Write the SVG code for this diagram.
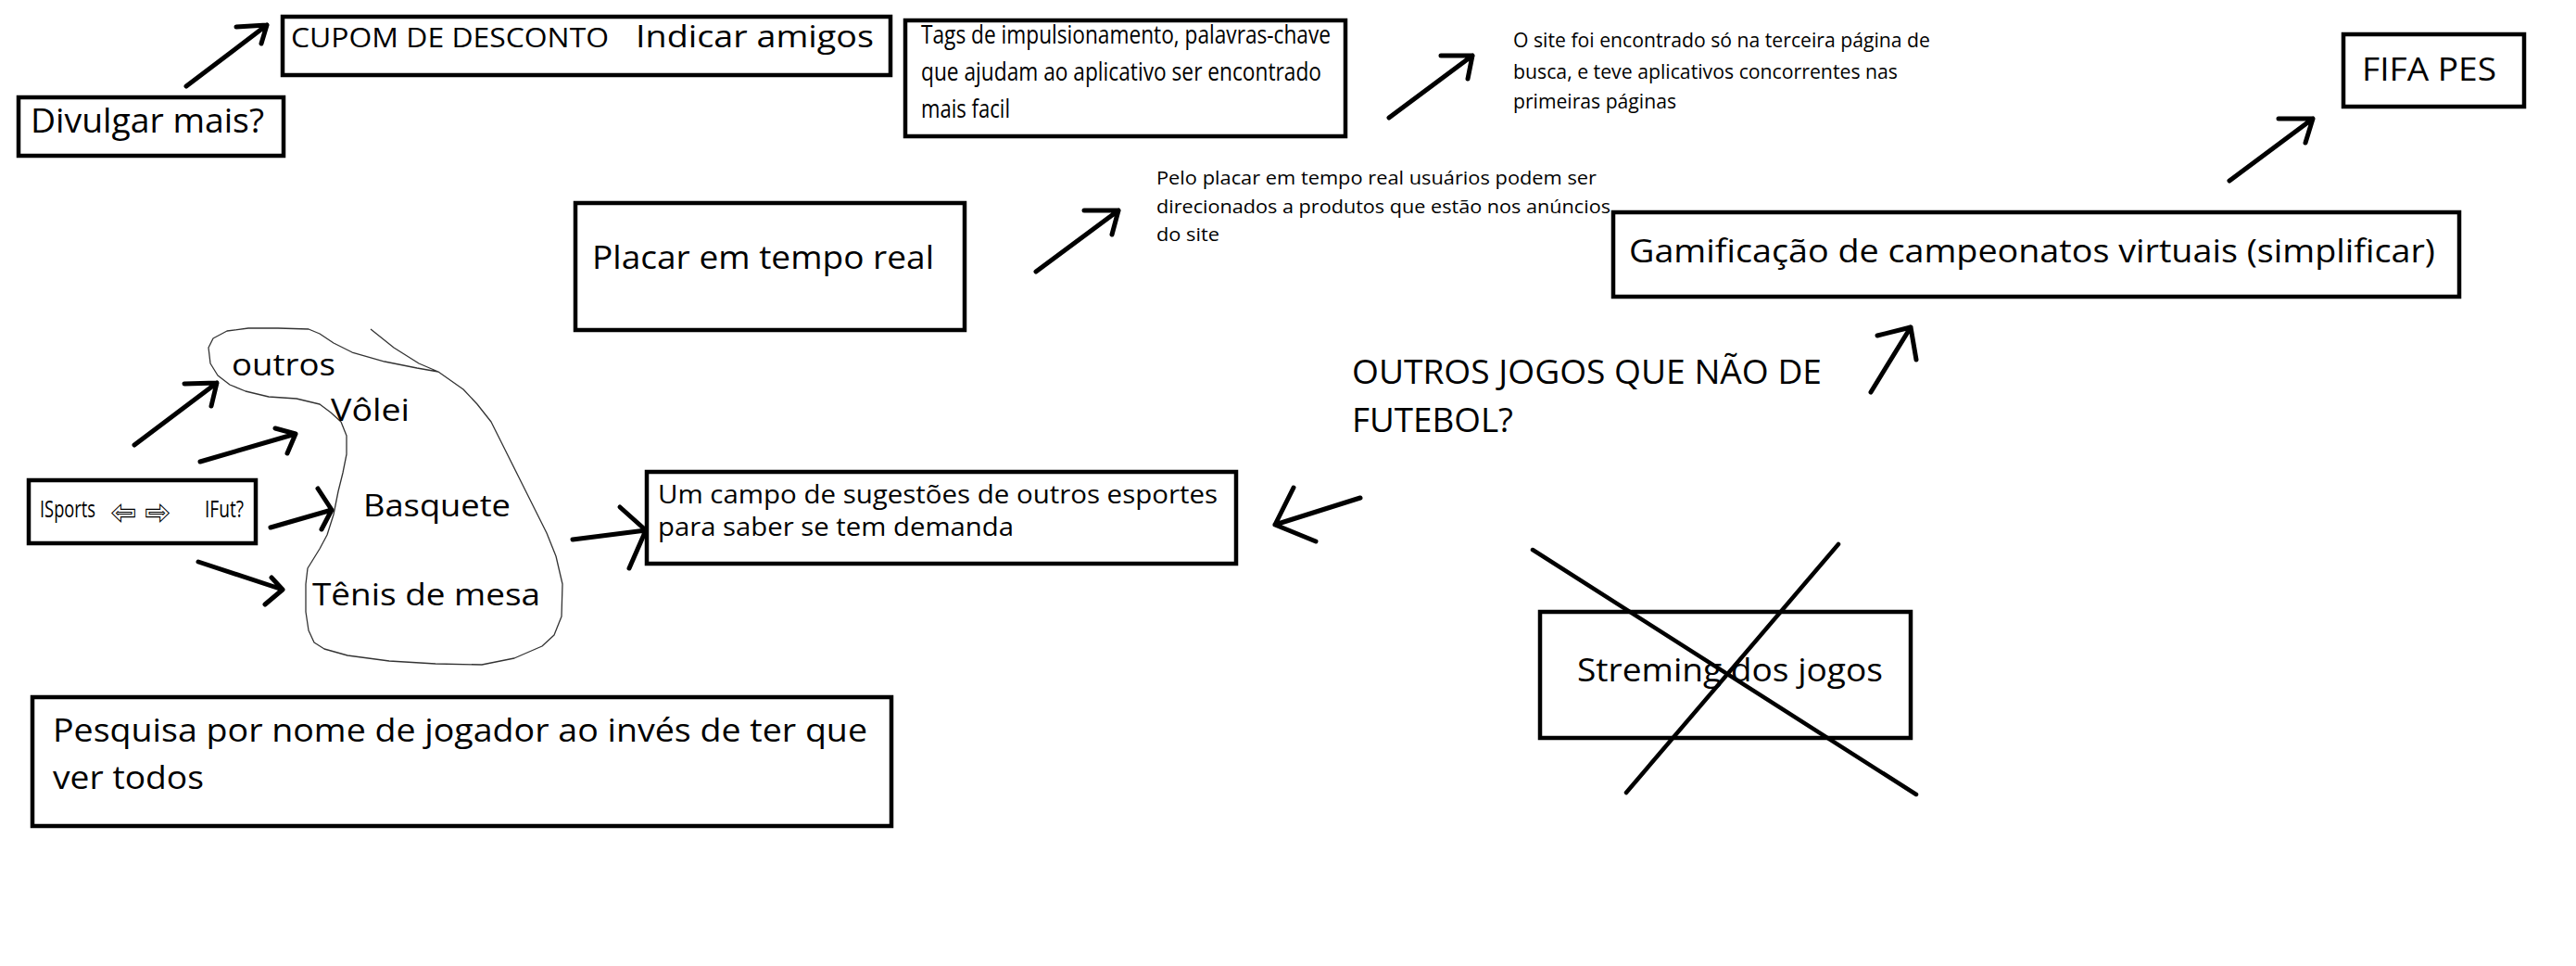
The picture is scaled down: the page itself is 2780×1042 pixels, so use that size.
<svg xmlns="http://www.w3.org/2000/svg" width="2780" height="1042" viewBox="0 0 2780 1042">
<style>
.bg{fill:#fff}
.box{fill:none;stroke:#000;stroke-width:4.5}
.t{font-family:'Open Sans','Liberation Sans',sans-serif;fill:#000}
.sym{font-family:'DejaVu Sans',sans-serif;font-weight:bold;fill:#fff;stroke:#000;stroke-width:2.2;paint-order:stroke}
.ar{fill:none;stroke:#000;stroke-width:5;stroke-linecap:round;stroke-linejoin:round}
.x{fill:none;stroke:#000;stroke-width:4.5;stroke-linecap:round}
.blob{fill:none;stroke:#333;stroke-width:1.3;stroke-linejoin:round}
</style>
<rect class="bg" x="0" y="0" width="2780" height="1042"/>

<g id="divulgar">
<rect class="box" x="20" y="105" width="286" height="63"/>
<text class="t" x="33" y="143" font-size="37" textLength="252" lengthAdjust="spacingAndGlyphs">Divulgar mais?</text>
</g>

<g id="cupom">
<rect class="box" x="305" y="18" width="656" height="63"/>
<text class="t" x="314" y="51" font-size="29" textLength="343" lengthAdjust="spacingAndGlyphs">CUPOM DE DESCONTO</text>
<text class="t" x="686" y="51" font-size="33" textLength="257" lengthAdjust="spacingAndGlyphs">Indicar amigos</text>
</g>

<g id="tags">
<rect class="box" x="977" y="22" width="475" height="125"/>
<text class="t" x="994" y="47" font-size="27" textLength="442" lengthAdjust="spacingAndGlyphs">Tags de impulsionamento, palavras-chave</text>
<text class="t" x="994" y="87" font-size="27" textLength="432" lengthAdjust="spacingAndGlyphs">que ajudam ao aplicativo ser encontrado</text>
<text class="t" x="994" y="127" font-size="27" textLength="96" lengthAdjust="spacingAndGlyphs">mais facil</text>
</g>

<g id="site-encontrado">
<text class="t" x="1633" y="51" font-size="21" textLength="450" lengthAdjust="spacingAndGlyphs">O site foi encontrado só na terceira página de</text>
<text class="t" x="1633" y="85" font-size="21" textLength="415" lengthAdjust="spacingAndGlyphs">busca, e teve aplicativos concorrentes nas</text>
<text class="t" x="1633" y="117" font-size="21" textLength="176" lengthAdjust="spacingAndGlyphs">primeiras páginas</text>
</g>

<g id="fifa">
<rect class="box" x="2529" y="37" width="195" height="78"/>
<text class="t" x="2549" y="87" font-size="34" textLength="145" lengthAdjust="spacingAndGlyphs">FIFA PES</text>
</g>

<g id="placar">
<rect class="box" x="621" y="219" width="420" height="137"/>
<text class="t" x="639" y="290" font-size="35" textLength="369" lengthAdjust="spacingAndGlyphs">Placar em tempo real</text>
</g>

<g id="pelo-placar">
<text class="t" x="1248" y="199" font-size="20" textLength="475" lengthAdjust="spacingAndGlyphs">Pelo placar em tempo real usuários podem ser</text>
<text class="t" x="1248" y="230" font-size="20" textLength="490" lengthAdjust="spacingAndGlyphs">direcionados a produtos que estão nos anúncios</text>
<text class="t" x="1248" y="260" font-size="20" textLength="68" lengthAdjust="spacingAndGlyphs">do site</text>
</g>

<g id="gamificacao">
<rect class="box" x="1741" y="229" width="913" height="91"/>
<text class="t" x="1758" y="283" font-size="35" textLength="870" lengthAdjust="spacingAndGlyphs">Gamificação de campeonatos virtuais (simplificar)</text>
</g>

<g id="outros-jogos">
<text class="t" x="1459" y="414" font-size="36" textLength="507" lengthAdjust="spacingAndGlyphs">OUTROS JOGOS QUE NÃO DE</text>
<text class="t" x="1459" y="466" font-size="36" textLength="174" lengthAdjust="spacingAndGlyphs">FUTEBOL?</text>
</g>

<g id="isports">
<rect class="box" x="31" y="518" width="245" height="68"/>
<text class="t" x="43" y="558" font-size="25" textLength="60" lengthAdjust="spacingAndGlyphs">ISports</text>
<text class="sym" x="121" y="563" font-size="30" textLength="62" lengthAdjust="spacingAndGlyphs">⇦ ⇨</text>
<text class="t" x="221" y="558" font-size="25" textLength="42" lengthAdjust="spacingAndGlyphs">IFut?</text>
</g>

<g id="esportes">
<path class="blob" d="M400,355 L425,375 L452,392 L473,401 L500,420 L515,436 L530,455 L545,485 L560,515 L575,545 L590,575 L600,600 L607,630 L606,665 L598,685 L585,697 L555,710 L520,717 L470,716 L420,713 L375,707 L350,700 L339,693 L333,680 L330,660 L330,630 L332,613 L345,592 L353,577 L360,555 L365,530 L370,510 L374,490 L374,470 L368,455 L357,445 L345,436 L320,430 L290,428 L265,422 L248,415 L235,405 L227,392 L225,375 L230,365 L245,357 L268,354 L300,354 L333,355 L345,360 L360,370 L380,380 L415,390 L450,397 L473,401"/>
<text class="t" x="250" y="405" font-size="33" textLength="112" lengthAdjust="spacingAndGlyphs">outros</text>
<text class="t" x="357" y="454" font-size="33" textLength="85" lengthAdjust="spacingAndGlyphs">Vôlei</text>
<text class="t" x="392" y="557" font-size="33" textLength="159" lengthAdjust="spacingAndGlyphs">Basquete</text>
<text class="t" x="337" y="653" font-size="33" textLength="246" lengthAdjust="spacingAndGlyphs">Tênis de mesa</text>
</g>

<g id="sugestoes">
<rect class="box" x="698" y="509" width="636" height="99"/>
<text class="t" x="710" y="543" font-size="27" textLength="604" lengthAdjust="spacingAndGlyphs">Um campo de sugestões de outros esportes</text>
<text class="t" x="710" y="578" font-size="27" textLength="384" lengthAdjust="spacingAndGlyphs">para saber se tem demanda</text>
</g>

<g id="streming">
<rect class="box" x="1662" y="660" width="400" height="136"/>
<text class="t" x="1702" y="735" font-size="34" textLength="330" lengthAdjust="spacingAndGlyphs">Streming dos jogos</text>
<line class="x" x1="1654" y1="593" x2="2068" y2="857"/>
<line class="x" x1="1984" y1="587" x2="1755" y2="855"/>
</g>

<g id="pesquisa">
<rect class="box" x="35" y="752" width="927" height="139"/>
<text class="t" x="57" y="800" font-size="35" textLength="879" lengthAdjust="spacingAndGlyphs">Pesquisa por nome de jogador ao invés de ter que</text>
<text class="t" x="57" y="851" font-size="35" textLength="163" lengthAdjust="spacingAndGlyphs">ver todos</text>
</g>

<g id="connectors">
<path class="ar" d="M201,93 L288,27 M255,29 L288,27 L282,47"/>
<path class="ar" d="M1499,127 L1589,60 M1555,60 L1589,60 L1584,85"/>
<path class="ar" d="M1118,293 L1207,227 M1170,227 L1207,227 L1200,253"/>
<path class="ar" d="M2406,195 L2496,128 M2459,128 L2496,128 L2488,154"/>
<path class="ar" d="M2019,423 L2062,353 M2026,362 L2062,353 L2068,388"/>
<path class="ar" d="M1468,537 L1376,566 M1396,526 L1376,566 L1420,584"/>
<path class="ar" d="M618,582 L697,572 M669,547 L697,572 L679,613"/>
<path class="ar" d="M145,480 L234,413 M199,414 L234,413 L228,438"/>
<path class="ar" d="M216,498 L319,468 M297,462 L319,468 L310,489"/>
<path class="ar" d="M292,569 L358,550 M343,527 L358,550 L347,571"/>
<path class="ar" d="M214,606 L305,636 M293,623 L305,636 L286,652"/>
</g>
</svg>
